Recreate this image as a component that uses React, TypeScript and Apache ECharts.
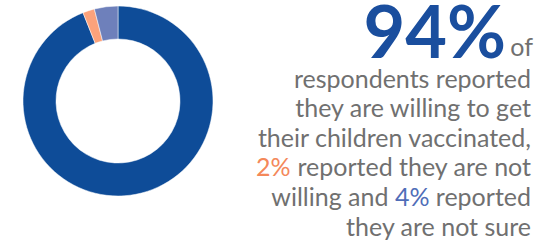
import React, { useEffect, useRef } from "react";
import * as echarts from "echarts";

const categories = ["Willing", "Not willing", "Not sure"];
const values = [94, 2, 4];
const sliceColors = ["#0E4C98", "#FBA27B", "#6E80BB"];

const headline = "94%";
const lines = [
  "respondents reported",
  "they are willing to get",
  "their children vaccinated,",
  "{o|2%} reported they are not",
  "willing and {b|4%} reported",
  "they are not sure",
];

const FONT = "Lato, 'Open Sans', sans-serif";

export default function App() {
  const ref = useRef<HTMLDivElement>(null);
  useEffect(() => {
    document.body.style.margin = "0";
    const chart = echarts.init(ref.current!, undefined, { renderer: "svg" });
    const textRight = 531;
    const graphics: any[] = [
      {
        type: "text",
        x: 506,
        y: 30,
        style: {
          text: headline,
          font: `bold 72px ${FONT}`,
          lineHeight: 54,
          fill: "#1A4E9E",
          textAlign: "right",
          textVerticalAlign: "middle",
        },
      },
      {
        type: "text",
        x: 533,
        y: 45.5,
        style: {
          text: "of",
          font: `25px ${FONT}`,
          lineHeight: 22,
          fill: "#707070",
          textAlign: "right",
          textVerticalAlign: "middle",
        },
      },
    ];
    lines.forEach((t, i) => {
      graphics.push({
        type: "text",
        x: textRight,
        y: 77.5 + i * 29.6,
        style: {
          text: t,
          font: `25px ${FONT}`,
          lineHeight: 28,
          fill: "#707070",
          textAlign: "right",
          textVerticalAlign: "middle",
          rich: {
            o: { fill: "#F4885A", fontSize: 25, fontFamily: FONT, lineHeight: 28 },
            b: { fill: "#4F6DB8", fontSize: 25, fontFamily: FONT, lineHeight: 28 },
          },
        },
      });
    });
    chart.setOption({
      animation: false,
      series: [
        {
          type: "pie",
          center: [118, 101],
          radius: [62, 95],
          startAngle: 90,
          clockwise: true,
          label: { show: false },
          labelLine: { show: false },
          silent: true,
          itemStyle: { borderColor: "#fff", borderWidth: 0.5 },
          data: categories.map((c, i) => ({
            name: c,
            value: values[i],
            itemStyle: { color: sliceColors[i] },
          })),
        },
      ],
      graphic: graphics,
    });
    return () => chart.dispose();
  }, []);
  return (
    <div
      ref={ref}
      style={{ position: "absolute", left: 0, top: 0, width: 549, height: 241 }}
    />
  );
}
